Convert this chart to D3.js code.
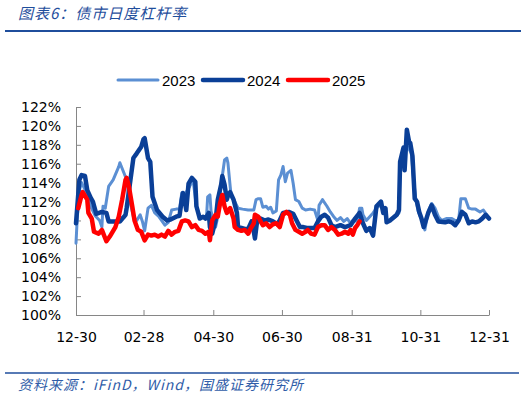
<!DOCTYPE html>
<html>
<head>
<meta charset="utf-8">
<script src="https://cdn.jsdelivr.net/npm/d3@7"></script>
<style>
  body { margin: 0; background: #fff; }
  svg { display: block; }
</style>
</head>
<body>
<svg id="chart" width="526" height="398"></svg>
<script>
// x ticks (MM-DD), first one in the previous year
const tickDates = ["12-30", "02-28", "04-30", "06-30", "08-31", "10-31", "12-31"];
const yTicks = [100, 102, 104, 106, 108, 110, 112, 114, 116, 118, 120, 122];

const seriesNames = ["2023", "2024", "2025"];

const s2023 = [
  ["12-30", 107.6], ["12-31", 110.0], ["01-02", 113.2], ["01-04", 114.0], ["01-08", 113.0],
  ["01-12", 111.5], ["01-16", 110.5], ["01-20", 110.0], ["01-22", 109.3], ["01-23", 111.5],
  ["01-25", 111.3], ["01-28", 113.6], ["02-01", 114.3], ["02-06", 115.7], ["02-07", 116.1],
  ["02-10", 115.2], ["02-13", 114.3], ["02-15", 112.5], ["02-19", 110.4], ["02-22", 110.0],
  ["02-25", 110.6], ["02-27", 109.9], ["02-29", 108.9], ["03-03", 111.3], ["03-06", 111.6],
  ["03-09", 110.8], ["03-12", 110.5], ["03-18", 109.5], ["03-21", 109.8], ["03-24", 111.1],
  ["03-28", 111.2], ["03-31", 111.2], ["04-02", 112.9], ["04-03", 112.5], ["04-06", 113.0],
  ["04-09", 113.6], ["04-12", 114.3], ["04-15", 111.5], ["04-18", 110.4], ["04-24", 110.4],
  ["04-25", 112.5], ["04-27", 112.7], ["04-28", 111.0], ["04-30", 110.0], ["05-02", 109.3],
  ["05-04", 110.4], ["05-06", 112.9], ["05-08", 114.7], ["05-10", 116.4], ["05-12", 116.6],
  ["05-13", 116.1], ["05-15", 113.6], ["05-16", 112.5], ["05-19", 112.0], ["05-22", 111.3],
  ["05-26", 111.2], ["05-31", 111.1], ["06-05", 111.1], ["06-07", 112.2], ["06-09", 112.3],
  ["06-11", 112.3], ["06-13", 111.4], ["06-16", 111.5], ["06-18", 111.2], ["06-20", 111.4],
  ["06-22", 110.8], ["06-25", 111.0], ["06-27", 114.3], ["06-29", 114.8], ["07-01", 115.7],
  ["07-03", 114.1], ["07-05", 115.0], ["07-08", 115.3], ["07-10", 113.9], ["07-12", 112.2],
  ["07-15", 112.0], ["07-18", 111.3], ["07-21", 111.1], ["07-25", 111.2], ["07-29", 111.1],
  ["08-01", 110.0], ["08-02", 111.6], ["08-05", 112.2], ["08-09", 111.5], ["08-12", 110.9],
  ["08-15", 110.4], ["08-18", 110.0], ["08-21", 110.3], ["08-24", 109.9], ["08-27", 110.2],
  ["08-30", 109.7], ["09-01", 110.0], ["09-05", 109.9], ["09-07", 111.3], ["09-09", 111.3],
  ["09-10", 110.6], ["09-13", 110.0], ["09-16", 110.4], ["09-19", 110.8], ["09-22", 111.3],
  ["09-25", 111.6], ["09-28", 111.3], ["10-01", 110.0], ["10-04", 110.0], ["10-09", 110.4],
  ["10-12", 110.8], ["10-13", 116.1], ["10-15", 116.9], ["10-16", 117.5], ["10-17", 117.8],
  ["10-20", 117.8], ["10-23", 117.1], ["10-25", 114.3], ["10-27", 112.2], ["10-29", 111.0],
  ["10-31", 110.4], ["11-02", 110.0], ["11-04", 109.0], ["11-07", 111.0], ["11-10", 111.8],
  ["11-13", 111.3], ["11-16", 110.4], ["11-19", 110.0], ["11-23", 110.2], ["11-28", 110.2],
  ["12-01", 110.0], ["12-04", 110.0], ["12-06", 112.3], ["12-10", 112.3], ["12-13", 111.3],
  ["12-16", 111.2], ["12-19", 111.2], ["12-23", 110.9], ["12-26", 111.1], ["12-29", 110.6],
  ["12-31", 110.2]
];

const s2024 = [
  ["12-30", 109.7], ["01-02", 114.3], ["01-04", 114.8], ["01-07", 114.7], ["01-09", 113.2],
  ["01-12", 112.4], ["01-14", 112.0], ["01-17", 110.7], ["01-22", 110.9], ["01-26", 110.8],
  ["01-28", 109.9], ["02-01", 109.9], ["02-07", 109.9], ["02-10", 110.3], ["02-12", 110.6],
  ["02-13", 111.3], ["02-19", 116.6], ["02-22", 117.1], ["02-26", 117.8], ["02-28", 118.6],
  ["02-29", 118.7], ["03-03", 116.6], ["03-05", 116.2], ["03-07", 112.5], ["03-11", 111.1],
  ["03-16", 110.4], ["03-20", 110.0], ["03-23", 110.1], ["03-28", 110.4], ["03-31", 110.5],
  ["04-02", 112.2], ["04-03", 112.9], ["04-05", 111.8], ["04-06", 111.1], ["04-08", 113.9],
  ["04-11", 114.5], ["04-14", 114.1], ["04-15", 111.5], ["04-18", 110.2], ["04-21", 110.4],
  ["04-23", 110.2], ["04-26", 110.8], ["04-27", 109.3], ["04-29", 108.6], ["05-02", 110.0],
  ["05-04", 112.2], ["05-07", 113.8], ["05-08", 114.7], ["05-10", 113.8], ["05-12", 112.2],
  ["05-13", 112.6], ["05-15", 113.0], ["05-18", 112.2], ["05-21", 110.8], ["05-22", 109.3],
  ["05-25", 109.2], ["05-28", 109.1], ["05-31", 109.1], ["06-03", 109.9], ["06-04", 109.5],
  ["06-06", 108.1], ["06-08", 110.0], ["06-11", 110.2], ["06-15", 110.0], ["06-18", 110.1],
  ["06-22", 109.9], ["06-26", 109.6], ["06-28", 110.0], ["07-01", 110.8], ["07-06", 110.9],
  ["07-10", 110.7], ["07-13", 110.0], ["07-16", 109.3], ["07-19", 109.3], ["07-22", 109.2],
  ["07-27", 109.2], ["07-29", 109.2], ["08-01", 109.9], ["08-04", 110.4], ["08-07", 110.6],
  ["08-10", 110.3], ["08-13", 109.5], ["08-16", 109.3], ["08-21", 109.5], ["08-25", 109.3],
  ["08-30", 109.5], ["09-03", 110.2], ["09-07", 110.8], ["09-10", 109.7], ["09-13", 108.9],
  ["09-16", 109.2], ["09-19", 108.4], ["09-22", 111.5], ["09-26", 112.0], ["09-28", 110.8],
  ["09-30", 111.3], ["10-01", 109.8], ["10-04", 110.0], ["10-10", 110.6], ["10-12", 111.1],
  ["10-13", 116.2], ["10-16", 117.7], ["10-17", 115.3], ["10-19", 119.6], ["10-21", 118.3],
  ["10-22", 118.2], ["10-24", 116.8], ["10-26", 112.3], ["10-28", 112.0], ["10-30", 110.9],
  ["11-01", 110.2], ["11-03", 109.3], ["11-07", 110.8], ["11-10", 111.6], ["11-13", 110.6],
  ["11-16", 109.9], ["11-22", 109.8], ["11-25", 109.9], ["11-28", 109.8], ["12-01", 109.5],
  ["12-04", 110.0], ["12-07", 110.9], ["12-10", 110.6], ["12-13", 109.7], ["12-16", 109.9],
  ["12-19", 109.8], ["12-22", 109.9], ["12-25", 110.2], ["12-28", 110.6], ["12-31", 110.2]
];

const s2025 = [
  ["01-01", 111.3], ["01-04", 112.7], ["01-05", 113.0], ["01-09", 112.2], ["01-10", 110.8],
  ["01-13", 110.2], ["01-15", 108.8], ["01-19", 108.6], ["01-22", 109.0], ["01-26", 107.8],
  ["01-29", 108.3], ["02-03", 109.3], ["02-06", 110.4], ["02-09", 112.2], ["02-12", 114.3],
  ["02-13", 114.5], ["02-15", 113.6], ["02-18", 111.5], ["02-20", 110.0], ["02-23", 109.0],
  ["02-26", 108.8], ["02-29", 107.9], ["03-03", 108.5], ["03-06", 108.4], ["03-09", 108.5],
  ["03-12", 108.3], ["03-15", 108.5], ["03-18", 108.3], ["03-21", 108.9], ["03-24", 108.5],
  ["03-27", 108.8], ["03-30", 108.9], ["04-02", 109.9], ["04-05", 110.0], ["04-08", 109.9],
  ["04-11", 109.3], ["04-14", 109.5], ["04-17", 109.0], ["04-20", 108.9], ["04-23", 108.6],
  ["04-26", 108.8], ["04-27", 107.9], ["04-29", 110.0], ["05-02", 110.6], ["05-04", 110.4],
  ["05-06", 111.8], ["05-08", 112.7], ["05-10", 111.5], ["05-12", 110.8], ["05-15", 111.3],
  ["05-18", 110.2], ["05-19", 109.3], ["05-22", 109.0], ["05-25", 108.9], ["05-28", 109.0],
  ["05-31", 108.6], ["06-02", 109.1], ["06-05", 109.7], ["06-06", 110.6], ["06-09", 110.4],
  ["06-11", 109.9], ["06-13", 109.5], ["06-16", 109.7], ["06-19", 109.3], ["06-22", 109.6],
  ["06-25", 109.7], ["06-28", 109.3], ["07-01", 110.6], ["07-04", 110.9], ["07-07", 110.6],
  ["07-09", 109.7], ["07-12", 109.0], ["07-15", 108.8], ["07-18", 108.6], ["07-21", 108.8],
  ["07-23", 109.0], ["07-26", 108.6], ["07-29", 108.5], ["08-01", 109.3], ["08-04", 109.5],
  ["08-07", 109.5], ["08-10", 109.0], ["08-13", 109.3], ["08-16", 109.0], ["08-19", 108.5],
  ["08-22", 108.6], ["08-25", 108.8], ["08-28", 108.6], ["08-30", 109.0], ["09-01", 108.5],
  ["09-03", 109.2], ["09-05", 109.5], ["09-07", 109.9]
];

// a December date at the start of a list belongs to the year before
const toDate = (s, i) => {
  const [m, d] = s.split("-").map(Number);
  return new Date(i < 5 && m === 12 ? 2023 : 2024, m - 1, d);
};

const svg = d3.select("#chart");

const x = d3.scaleTime()
  .domain([new Date(2023, 11, 30), new Date(2024, 11, 31)])
  .range([76, 489]);

const y = d3.scaleLinear()
  .domain([100, 122])
  .range([315, 107]);

// header
svg.append("text")
  .attr("x", 18)
  .attr("y", 19)
  .attr("fill", "#1f4e9c")
  .style("font-family", "'Noto Sans CJK SC', sans-serif")
  .style("font-size", "15px")
  .style("font-style", "italic")
  .style("letter-spacing", "1px")
  .text("图表6：债市日度杠杆率");

svg.append("line")
  .attr("x1", 5).attr("x2", 521)
  .attr("y1", 31).attr("y2", 31)
  .attr("stroke", "#1f4e9c")
  .attr("stroke-width", 2);

// axes
const yAxis = svg.append("g")
  .attr("transform", "translate(76,0)")
  .call(d3.axisLeft(y)
    .tickValues(yTicks)
    .tickFormat(d => d + "%")
    .tickSizeInner(-5)
    .tickSizeOuter(0)
    .tickPadding(15));

const xAxis = svg.append("g")
  .attr("transform", "translate(0,315)")
  .call(d3.axisBottom(x)
    .tickValues(tickDates.map(toDate))
    .tickFormat(d3.timeFormat("%m-%d"))
    .tickSizeInner(-5)
    .tickSizeOuter(0)
    .tickPadding(17));

[yAxis, xAxis].forEach(g => {
  g.select(".domain").attr("stroke", "#868686");
  g.selectAll(".tick line").attr("stroke", "#868686");
  g.selectAll(".tick text")
    .attr("fill", "#000")
    .style("font-family", "'DejaVu Sans', Verdana, sans-serif")
    .style("font-size", "14px");
});

// lines
const line = d3.line()
  .x(d => x(d.date))
  .y(d => y(d.value));

const series = [
  {name: seriesNames[0], data: s2023, color: "#5b8fd3", width: 3},
  {name: seriesNames[1], data: s2024, color: "#0a3f97", width: 4.5},
  {name: seriesNames[2], data: s2025, color: "#ff0000", width: 4.5}
];

series.forEach(s => {
  const pts = s.data.map((p, i) => ({date: toDate(p[0], i), value: p[1]}));
  svg.append("path")
    .datum(pts)
    .attr("fill", "none")
    .attr("stroke", s.color)
    .attr("stroke-width", s.width)
    .attr("stroke-linejoin", "round")
    .attr("stroke-linecap", "round")
    .attr("d", line);
});

// legend
const legendX = [118, 203, 288];
series.forEach((s, i) => {
  const g = svg.append("g").attr("transform", "translate(" + legendX[i] + ",80)");
  g.append("line")
    .attr("x1", 0).attr("x2", 40)
    .attr("stroke", s.color)
    .attr("stroke-width", s.width)
    .attr("stroke-linecap", "round");
  g.append("text")
    .attr("x", 44)
    .attr("y", 6)
    .attr("fill", "#000")
    .style("font-family", "'Liberation Sans', Arial, sans-serif")
    .style("font-size", "15px")
    .text(s.name);
});

// footer
svg.append("line")
  .attr("x1", 5).attr("x2", 519)
  .attr("y1", 373).attr("y2", 373)
  .attr("stroke", "#1f4e9c")
  .attr("stroke-width", 1.5);

svg.append("text")
  .attr("x", 18)
  .attr("y", 390)
  .attr("fill", "#2f5ca8")
  .style("font-family", "'Noto Sans CJK SC', sans-serif")
  .style("font-size", "14px")
  .style("font-style", "italic")
  .style("letter-spacing", "1px")
  .text("资料来源：iFinD，Wind，国盛证券研究所");
</script>
</body>
</html>
